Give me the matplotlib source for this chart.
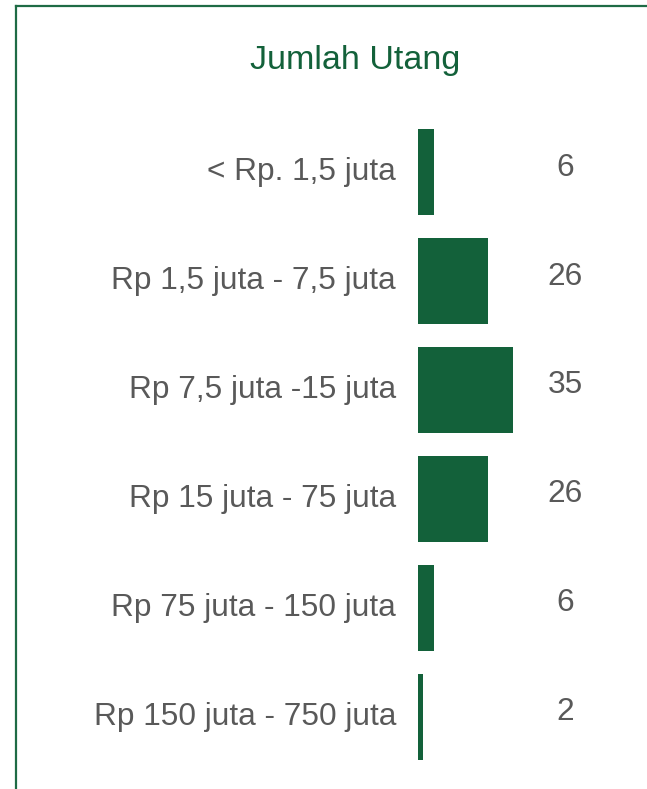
import numpy as np
import matplotlib.pyplot as plt
from matplotlib.lines import Line2D

# Data
kategori = ['< Rp. 1,5 juta', 'Rp 1,5 juta - 7,5 juta', 'Rp 7,5 juta -15 juta',
            'Rp 15 juta - 75 juta', 'Rp 75 juta - 150 juta', 'Rp 150 juta - 750 juta']
jumlah = [6, 26, 35, 26, 6, 2]

hijau = '#13613A'
abu = '#595959'
plt.rcParams['font.family'] = ['Liberation Sans', 'DejaVu Sans']

W, H = 647, 789
fig = plt.figure(figsize=(W / 100, H / 100), dpi=100)

# garis tepi kiri dan atas
fig.add_artist(Line2D([16 / W, 16 / W], [0, 1 - 6 / H], transform=fig.transFigure,
                      color='#1E6B45', lw=1.6))
fig.add_artist(Line2D([16 / W, 1], [1 - 6 / H, 1 - 6 / H], transform=fig.transFigure,
                      color='#1E6B45', lw=1.6))

fig.text(355 / W, 1 - 61 / H, 'Jumlah Utang', color=hijau, fontsize=24.5,
         ha='center', va='center')

# axes: kiri di awal batang, tinggi 6 baris
left, top, bottom = 418, 117.5, 771
ax = fig.add_axes([left / W, 1 - bottom / H, (W - left) / W, (bottom - top) / H])
y = np.arange(len(kategori))
ax.barh(y, jumlah, height=0.79, color=hijau)
ax.set_xlim(0, (W - left) / 2.7)
ax.set_ylim(len(kategori) - 0.5, -0.5)
ax.axis('off')

trans = ax.get_yaxis_transform()
for i, (k, v) in enumerate(zip(kategori, jumlah)):
    ax.text((396 - left) / (W - left), i, k, transform=trans, ha='right',
            va='center', fontsize=22.8, color=abu)
    ax.text((565 - left) / (W - left), i - 0.04, str(v), transform=trans,
            ha='center', va='center', fontsize=22.8, color=abu)

fig.savefig('out.png', dpi=100)
